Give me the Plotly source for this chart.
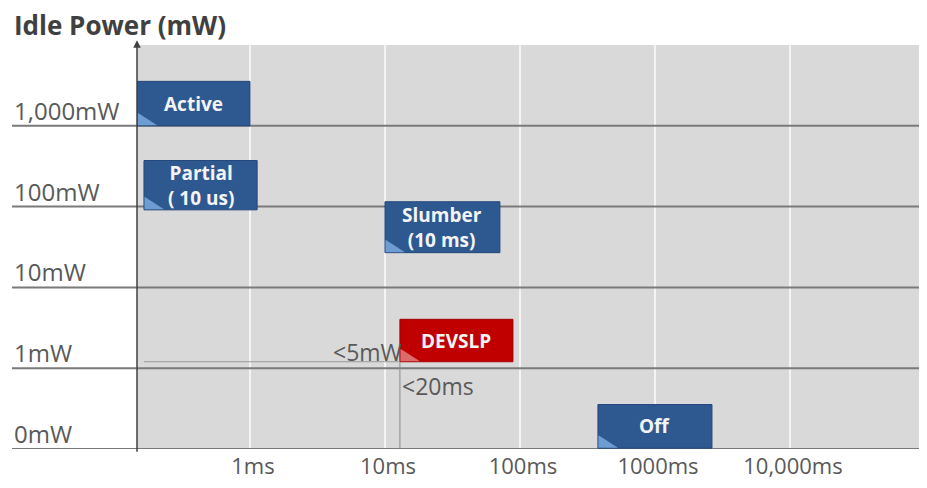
import numpy as np
import plotly.graph_objects as go

# ---------------- data ----------------
level_labels = ["0mW", "1mW", "10mW", "100mW", "1,000mW"]
level_values = [0, 1, 2, 3, 4]

tick_ms = [1, 10, 100, 1000, 10000]
tick_text = ["1ms", "10ms", "100ms", "1000ms", "10,000ms"]

states = ["Active", "Partial<br>( 10 us)", "Slumber<br>(10 ms)", "DEVSLP", "Off"]
state_start_ms = [0.146, 0.164, 10.0, 12.9, 378.0]
state_end_ms = [1.0, 1.13, 71.0, 88.7, 2643.0]
state_level_low = [4.0, 2.96, 2.43, 1.08, 0.01]
state_level_high = [4.55, 3.57, 3.06, 1.605, 0.55]
state_kind = ["blue", "blue", "blue", "red", "blue"]

devslp_power_label = "<5mW"
devslp_latency_label = "<20ms"

x_range_ms = [0.1456, 90300]
y_range = [0, 5]

# ---------------- styling ----------------
FILL = {"blue": "#2E5990", "red": "#C00000"}
EDGE = {"blue": "#23467A", "red": "#A30000"}
CORNER = {"blue": "#6E9DD4", "red": "#DD6B6B"}
FONT = "Open Sans"

fig = go.Figure()
fig.add_trace(go.Scatter(x=[np.log10(x_range_ms[0])], y=[0], mode="markers",
                         marker=dict(opacity=0), hoverinfo="skip", showlegend=False))

shapes = []
annotations = []

label_x_paper = (4 - 129) / 782

# level lines + labels
for lv, lab in zip(level_values, level_labels):
    shapes.append(dict(type="line", xref="paper", yref="y", x0=label_x_paper, x1=1,
                       y0=lv, y1=lv, line=dict(color="#7A7A7A", width=2), layer="above"))
    annotations.append(dict(xref="paper", yref="y", x=label_x_paper, y=lv, text=lab,
                            showarrow=False, xanchor="left", yanchor="bottom", yshift=-3,
                            font=dict(family=FONT, size=24, color="#595959")))

# state boxes
for name, s, e, lo, hi, k in zip(states, state_start_ms, state_end_ms,
                                 state_level_low, state_level_high, state_kind):
    x0, x1 = np.log10(s), np.log10(e)
    shapes.append(dict(type="rect", xref="x", yref="y", x0=x0, x1=x1, y0=lo, y1=hi,
                       fillcolor=FILL[k], line=dict(color=EDGE[k], width=1), layer="above"))
    shapes.append(dict(type="path", xref="x", yref="y", xsizemode="pixel", ysizemode="pixel",
                       xanchor=x0, yanchor=lo, path="M0.5,0.5 L20,0.5 L0.5,13 Z",
                       fillcolor=CORNER[k], line=dict(width=0), layer="above"))
    annotations.append(dict(xref="x", yref="y", x=(x0 + x1) / 2, y=(lo + hi) / 2, text="<b>%s</b>" % name,
                            showarrow=False, xanchor="center", yanchor="middle",
                            font=dict(family=FONT, size=19, color="#F4F4F4")))

# DEVSLP markers
di = states.index("DEVSLP")
dx = np.log10(state_start_ms[di])
dy = state_level_low[di]
shapes.append(dict(type="line", xref="x", yref="y", x0=np.log10(0.164), x1=dx, y0=dy, y1=dy,
                   line=dict(color="#9A9A9A", width=1), layer="above"))
shapes.append(dict(type="line", xref="x", yref="y", x0=dx, x1=dx, y0=0, y1=dy,
                   line=dict(color="#8A8A8A", width=1), layer="above"))
annotations.append(dict(xref="x", yref="y", x=dx, y=dy, text=devslp_power_label, showarrow=False,
                        xanchor="right", yanchor="bottom", yshift=-8, xshift=4,
                        font=dict(family=FONT, size=23, color="#595959")))
annotations.append(dict(xref="x", yref="y", x=dx, y=1, text=devslp_latency_label, showarrow=False,
                        xanchor="left", yanchor="top", xshift=0, yshift=0,
                        font=dict(family=FONT, size=23, color="#595959")))

# y axis arrow
annotations.append(dict(xref="paper", yref="paper", x=0, y=1.012, ax=0, ay=413, axref="pixel", ayref="pixel",
                        text="", showarrow=True, arrowhead=2, arrowsize=1, arrowwidth=1.5,
                        arrowcolor="#404040", standoff=0))

# title
annotations.append(dict(xref="paper", yref="paper", x=label_x_paper, y=1.049, text="<b>Idle Power (mW)</b>",
                        showarrow=False, xanchor="left", yanchor="middle",
                        font=dict(family=FONT, size=26, color="#404040")))

fig.update_layout(
    width=911, height=472,
    margin=dict(l=129, r=0, t=37, b=27),
    paper_bgcolor="white", plot_bgcolor="#D9D9D9",
    shapes=shapes, annotations=annotations, showlegend=False,
    xaxis=dict(range=[np.log10(x_range_ms[0]), np.log10(x_range_ms[1])],
               tickvals=[np.log10(v) for v in tick_ms], ticktext=tick_text,
               showgrid=True, gridcolor="#F4F4F4", gridwidth=2, zeroline=False,
               showline=False, ticks="", ticklabelstandoff=2, ticklabelshift=3,
               tickfont=dict(family=FONT, size=22, color="#595959"), fixedrange=True),
    yaxis=dict(range=y_range, showgrid=False, zeroline=False, showticklabels=False,
               showline=False, ticks="", fixedrange=True),
)

fig.write_html("out.html")
